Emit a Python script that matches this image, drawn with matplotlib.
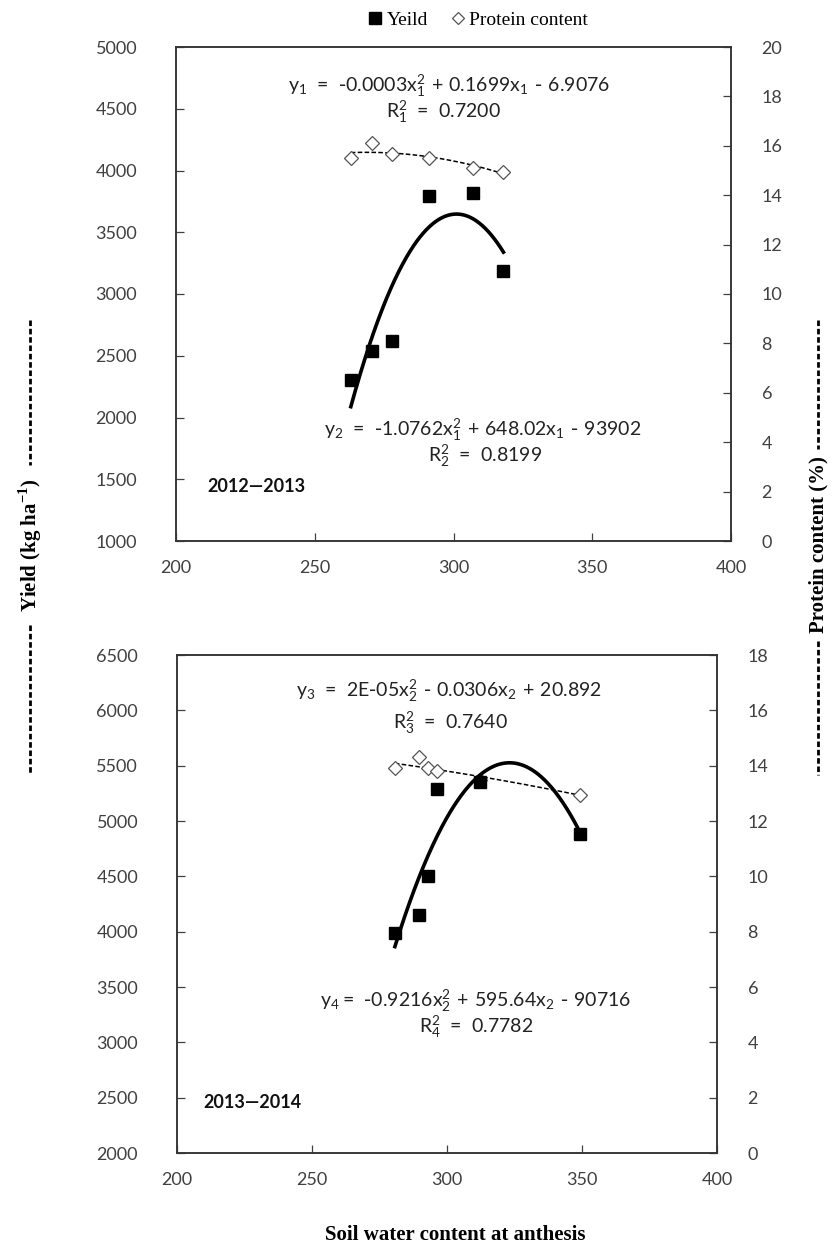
import numpy as np
import matplotlib
matplotlib.use("Agg")
import matplotlib.pyplot as plt
from matplotlib.lines import Line2D

# soil water content at anthesis, yield (kg/ha) and protein (%) per season
x_1213 = [263, 270.5, 278, 291, 307, 318]
yield_1213 = [2300, 2540, 2620, 3790, 3820, 3185]
protein_1213 = [15.5, 16.1, 15.65, 15.5, 15.1, 14.95]

x_1314 = [280.7, 289.6, 293, 296.3, 312.2, 349.3]
yield_1314 = [3990, 4150, 4500, 5290, 5350, 4880]
protein_1314 = [13.9, 14.3, 13.9, 13.8, 13.5, 12.95]

# quadratic yield fits as printed on the chart
fit_yield_1213 = [-1.0762, 648.02, -93902]
fit_yield_1314 = [-0.9216, 595.64, -90716]

M = r"\text{-}"
eq_1213 = [r"$\mathregular{y_1\ {=}\ " + M + r"0.0003x_1^2\ {+}\ 0.1699x_1\ " + M + r"\ 6.9076}$",
           r"$\mathregular{R_1^2\ {=}\ 0.7200}$",
           r"$\mathregular{y_2\ {=}\ " + M + r"1.0762x_1^2\ {+}\ 648.02x_1\ " + M + r"\ 93902}$",
           r"$\mathregular{R_2^2\ {=}\ 0.8199}$"]
eq_1314 = [r"$\mathregular{y_3\ {=}\ 2E" + M + r"05x_2^2\ " + M + r"\ 0.0306x_2\ {+}\ 20.892}$",
           r"$\mathregular{R_3^2\ {=}\ 0.7640}$",
           r"$\mathregular{y_4{=}\ " + M + r"0.9216x_2^2\ {+}\ 595.64x_2\ " + M + r"\ 90716}$",
           r"$\mathregular{R_4^2\ {=}\ 0.7782}$"]

W, H = 834, 1259
SANS = "Lato"
SERIF = "Liberation Serif"
GREY = "#404040"

fig = plt.figure(figsize=(W / 100, H / 100), dpi=100)


def fx(px):
    return px / W


def fy(py):
    return 1 - py / H


def panel(rect, x, yld, prot, yfit, ylim, ystep, plim, pstep,
          eqs, eq_pos, season, season_pos):
    ax = fig.add_axes(rect)
    ax2 = ax.twinx()
    xx = np.linspace(min(x), max(x), 200)
    ax.plot(xx, np.polyval(yfit, xx), color="black", lw=2.6, zorder=3)
    pfit = np.polyfit(x, prot, 2)
    ax2.plot(xx, np.polyval(pfit, xx), color="black", lw=1.1,
             ls=(0, (3, 1.5)), zorder=2)
    ax2.plot(x, prot, ls="none", marker="D", ms=7, mfc="white",
             mec="#555555", mew=0.9, zorder=3)
    ax.set_zorder(ax2.get_zorder() + 1)
    ax.patch.set_visible(False)
    ax.plot(x, yld, ls="none", marker="s", ms=8.5, color="black", zorder=4)

    ax.set_xlim(200, 400)
    ax.set_xticks(np.arange(200, 401, 50))
    ax.set_ylim(*ylim)
    ax.set_yticks(np.arange(ylim[0], ylim[1] + 1, ystep))
    ax2.set_ylim(*plim)
    ax2.set_yticks(np.arange(plim[0], plim[1] + 0.1, pstep))
    for a in (ax, ax2):
        a.tick_params(direction="in", length=6, width=0.9, colors=GREY,
                      labelsize=13, pad=10)
        for lab in a.get_xticklabels() + a.get_yticklabels():
            lab.set_fontfamily(SANS)
        for s in a.spines.values():
            s.set_color("#333333")
            s.set_linewidth(1.1)
    ax.tick_params(axis="y", pad=28)
    ax2.tick_params(axis="y", pad=22)
    ax.tick_params(axis="x", pad=14)

    for txt, (px, py) in zip(eqs, eq_pos):
        fig.text(fx(px), fy(py), txt, ha="center", va="center",
                 fontsize=14, family=SANS, color="#222222")
    fig.text(fx(season_pos[0]), fy(season_pos[1]), season, ha="left",
             va="center", fontsize=13, family=SANS, weight="bold",
             color="#111111")
    return ax, ax2


panel([fx(176), fy(541), fx(731) - fx(176), fy(47) - fy(541)],
      x_1213, yield_1213, protein_1213, fit_yield_1213,
      (1000, 5000), 500, (0, 20), 2, eq_1213,
      [(449, 86), (443, 112), (483, 430), (485, 456)],
      "2012\u20142013", (207, 487))

panel([fx(177), fy(1153), fx(717) - fx(177), fy(655) - fy(1153)],
      x_1314, yield_1314, protein_1314, fit_yield_1314,
      (2000, 6500), 500, (0, 18), 2, eq_1314,
      [(449, 691), (450, 723), (476, 1001), (476, 1027)],
      "2013\u20142014", (203, 1102))

# legend across the top
handles = [Line2D([], [], ls="none", marker="s", ms=8, color="black"),
           Line2D([], [], ls="none", marker="D", ms=6.5, mfc="white",
                  mec="#555555", mew=0.9)]
fig.legend(handles, ["Yeild", "Protein content"], loc="center",
           bbox_to_anchor=(fx(477), fy(20)), ncol=2, frameon=False,
           handletextpad=0.1, columnspacing=1.0, handlelength=1.0,
           prop={"family": SERIF, "size": 14})

# side labels with dashed leaders
fig.text(fx(30), fy(545), r"Yield (kg ha$^{\mathregular{-1}}$)",
         rotation=90, ha="center", va="center", family=SERIF,
         weight="bold", fontsize=15)
fig.text(fx(818), fy(545), "Protein content (%)", rotation=90,
         ha="center", va="center", family=SERIF, weight="bold", fontsize=15)
for px, half in ((30, 72), (818, 88)):
    for y0, y1 in ((320, 545 - half - 8), (545 + half + 8, 775)):
        fig.add_artist(Line2D([fx(px), fx(px)], [fy(y0), fy(y1)],
                              color="black", lw=2.0, ls=(0, (2, 1)),
                              transform=fig.transFigure))

fig.text(fx(455), fy(1235), "Soil water content at anthesis", ha="center",
         va="center", family=SERIF, weight="bold", fontsize=15)

fig.savefig("out.png", dpi=100, facecolor="white")
